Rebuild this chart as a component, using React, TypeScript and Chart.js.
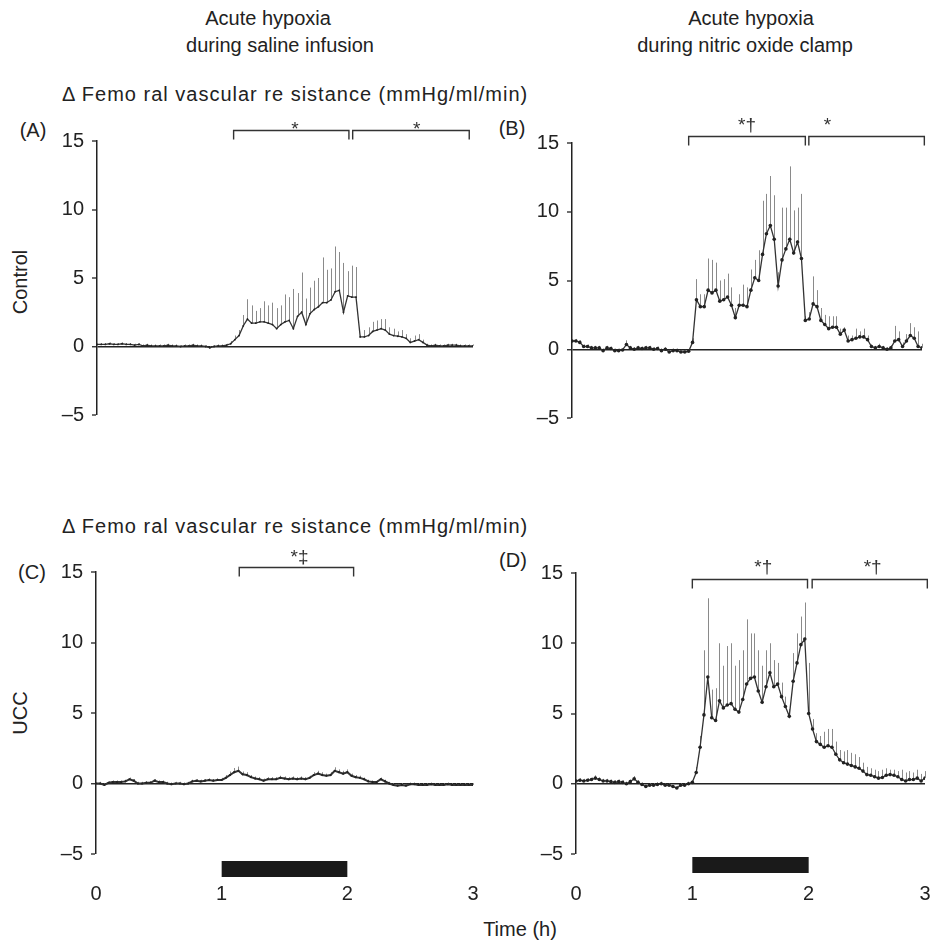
import React, { useEffect, useRef } from "react";
import { Chart, registerables } from "chart.js";

Chart.register(...registerables);

// ---------------- data ----------------
const X_TICKS = [0, 1, 2, 3];
const Y_TICKS = [-5, 0, 5, 10, 15];
const HYPOXIA_WINDOW = [1, 2]; // hours
const SAMPLE_STEP_MIN = 2;
const TIME_H = Array.from({ length: 91 }, (_, i) => (i * SAMPLE_STEP_MIN) / 60);

// (A) Control, saline infusion
const A_MEAN = [
  0.15, 0.15, 0.15, 0.2, 0.15, 0.15, 0.2, 0.15, 0.15, 0.1, 0.15,
  0.05, 0.1, 0.05, 0.05, 0.05, 0.05, 0.1, 0.05, 0.05, 0.0, 0.05, 0.05, 0.1, 0.05, 0.05, 0.0, -0.1, 0.0, 0.05, 0.05, 0.1,
  0.2, 0.5, 0.8, 1.5,
  2.0, 1.7, 1.7, 1.8, 1.8, 1.7, 1.6, 1.3, 1.6, 1.8, 1.9, 1.3, 2.2, 2.5, 1.6, 2.4, 2.7, 2.9, 3.2, 3.2, 3.4, 4.0, 4.1, 2.5, 3.7, 3.6, 3.6,
  0.7, 0.7, 0.8, 1.1, 1.2, 1.3, 1.2, 0.9, 0.8, 0.75, 0.7, 0.6, 0.3, 0.4, 0.5, 0.3, 0.1,
  0.05, 0.1, 0.05, 0.05, 0.1, 0.1, 0.1, 0.05, 0.05, 0.05, 0.05,
];
const A_SEM = [
  0.1, 0.1, 0.1, 0.1, 0.1, 0.1, 0.1, 0.1, 0.1, 0.1, 0.1,
  0.1, 0.1, 0.1, 0.1, 0.1, 0.1, 0.1, 0.1, 0.1, 0.1, 0.1, 0.1, 0.1, 0.1, 0.1, 0.1, 0.1, 0.1, 0.1, 0.1, 0.1,
  0.2, 0.3, 0.4, 0.8,
  1.45, 1.3, 0.9, 1.0, 1.5, 1.3, 1.6, 1.5, 1.4, 2.0, 1.7, 2.9, 1.7, 2.9, 1.9, 1.9, 2.1, 2.1, 3.3, 2.4, 2.3, 3.3, 2.8, 3.6, 1.8, 2.3, 2.2,
  0.1, 0.5, 0.6, 0.7, 0.7, 0.7, 0.8, 0.5, 0.5, 0.35, 0.5, 0.3, 0.3, 0.4, 0.4, 0.2, 0.1,
  0.1, 0.1, 0.1, 0.1, 0.1, 0.1, 0.1, 0.1, 0.1, 0.1, 0.1,
];

// (B) Control, nitric oxide clamp
const B_MEAN = [
  0.6, 0.6, 0.5, 0.2, 0.2, 0.1, 0.1, 0.1, -0.1, 0.1,
  0.05, -0.1, -0.1, -0.05, 0.35, 0.1, 0.0, 0.1, 0.05, 0.1,
  0.1, 0.0, 0.05, -0.1, 0.0, -0.2, -0.1, -0.1, -0.2, -0.2,
  -0.15, 0.5, 3.6, 3.1, 3.1, 4.3, 4.1, 4.3, 3.5, 3.6,
  3.8, 3.2, 2.3, 3.2, 3.2, 3.1, 4.3, 5.2, 5.0, 6.9,
  8.4, 9.0, 8.0, 4.6, 6.5, 7.3, 8.0, 7.0, 7.8, 6.6,
  2.1, 2.2, 3.3, 3.1, 2.1, 1.8, 1.5, 1.6, 1.6, 1.1,
  1.4, 0.6, 0.7, 0.8, 0.9, 0.9, 0.7, 0.2, 0.1, 0.2,
  0.1, 0.0, 0.1, 0.6, 0.7, 0.2, 0.6, 1.0, 0.8, 0.2,
  0.1,
];
const B_SEM = [
  0.15, 0.15, 0.15, 0.15, 0.15, 0.15, 0.15, 0.15, 0.15, 0.15,
  0.15, 0.15, 0.15, 0.15, 0.3, 0.15, 0.15, 0.15, 0.15, 0.15,
  0.15, 0.15, 0.15, 0.15, 0.15, 0.15, 0.15, 0.15, 0.15, 0.15,
  0.15, 0.3, 1.5, 0.9, 0.9, 2.3, 2.4, 2.0, 1.5, 1.5,
  1.7, 1.3, 0.7, 0.8, 1.5, 1.4, 1.5, 1.3, 2.2, 3.9,
  2.9, 3.6, 3.2, 1.0, 3.8, 3.0, 5.3, 3.1, 2.5, 4.7,
  0.3, 0.5, 2.0, 1.2, 0.9, 0.7, 0.9, 0.8, 0.8, 0.4,
  0.2, 0.4, 0.3, 0.7, 0.4, 0.6, 0.3, 0.15, 0.15, 0.2,
  0.15, 0.15, 0.2, 1.1, 0.6, 0.3, 0.5, 0.9, 0.8, 1.1,
  0.3,
];

// (C) UCC, saline infusion
const C_MEAN = [
  0.0, 0.0, -0.1, 0.05, 0.1, 0.1, 0.1, 0.15, 0.3, 0.2,
  0.0, 0.0, 0.05, 0.05, 0.2, 0.1, 0.1, 0.0, -0.05, 0.0,
  0.0, -0.05, 0.0, 0.15, 0.2, 0.15, 0.2, 0.25, 0.2, 0.25,
  0.25, 0.4, 0.6, 0.8, 0.9, 0.65, 0.6, 0.45, 0.35, 0.3,
  0.2, 0.3, 0.3, 0.3, 0.4, 0.35, 0.3, 0.35, 0.3, 0.35,
  0.3, 0.4, 0.6, 0.7, 0.6, 0.55, 0.6, 0.9, 0.8, 0.7,
  0.8, 0.55, 0.45, 0.4, 0.3, 0.15, 0.1, 0.1, 0.3, 0.15,
  0.0, -0.1, -0.15, -0.1, -0.15, -0.05, -0.05, -0.1, -0.1, -0.1,
  -0.05, -0.1, -0.1, -0.1, -0.05, -0.1, -0.1, -0.1, -0.1, -0.1,
  -0.1,
];
const C_SEM = [
  0.12, 0.12, 0.12, 0.12, 0.12, 0.12, 0.12, 0.12, 0.12, 0.12,
  0.12, 0.12, 0.12, 0.12, 0.12, 0.12, 0.12, 0.12, 0.12, 0.12,
  0.12, 0.12, 0.12, 0.12, 0.12, 0.12, 0.12, 0.12, 0.12, 0.12,
  0.15, 0.2, 0.25, 0.3, 0.3, 0.2, 0.2, 0.15, 0.15, 0.15,
  0.15, 0.15, 0.15, 0.15, 0.15, 0.15, 0.15, 0.15, 0.15, 0.15,
  0.15, 0.15, 0.2, 0.2, 0.2, 0.15, 0.2, 0.25, 0.2, 0.2,
  0.2, 0.15, 0.15, 0.15, 0.12, 0.12, 0.12, 0.12, 0.12, 0.12,
  0.12, 0.12, 0.12, 0.12, 0.12, 0.12, 0.12, 0.12, 0.12, 0.12,
  0.12, 0.12, 0.12, 0.12, 0.12, 0.12, 0.12, 0.12, 0.12, 0.12,
  0.12,
];

// (D) UCC, nitric oxide clamp
const D_MEAN = [
  0.2, 0.25, 0.2, 0.25, 0.3, 0.4, 0.3, 0.2, 0.2, 0.15,
  0.1, 0.15, 0.1, 0.0, 0.15, 0.35, 0.1, -0.05, -0.2, -0.1,
  -0.1, -0.05, 0.0, -0.1, -0.1, -0.2, -0.3, -0.1, -0.1, 0.0,
  0.1, 0.8, 2.6, 4.9, 7.6, 4.7, 4.5, 5.9, 5.4, 5.6,
  5.7, 5.3, 5.1, 6.0, 7.1, 7.5, 7.6, 6.6, 5.8, 6.9,
  7.9, 6.9, 7.1, 6.2, 5.5, 4.8, 7.3, 8.6, 9.9, 10.3,
  5.0, 3.9, 3.0, 2.8, 2.6, 2.7, 2.6, 2.1, 1.7, 1.5,
  1.4, 1.3, 1.2, 1.1, 0.9, 0.65, 0.6, 0.5, 0.4, 0.45,
  0.6, 0.65, 0.6, 0.5, 0.3, 0.2, 0.3, 0.3, 0.4, 0.2,
  0.4,
];
const D_SEM = [
  0.15, 0.15, 0.15, 0.15, 0.15, 0.2, 0.15, 0.15, 0.15, 0.15,
  0.15, 0.15, 0.15, 0.15, 0.15, 0.2, 0.15, 0.15, 0.15, 0.15,
  0.15, 0.15, 0.15, 0.15, 0.15, 0.15, 0.15, 0.15, 0.15, 0.15,
  0.1, 0.4, 0.8, 4.6, 5.6, 2.0, 2.3, 4.1, 3.0, 4.2,
  4.3, 3.1, 3.7, 3.5, 4.6, 3.2, 3.1, 2.9, 2.6, 2.6,
  2.1, 1.9, 1.5, 1.0, 0.7, 0.5, 2.0, 2.1, 2.0, 2.6,
  3.6, 0.7, 0.6, 0.6, 1.1, 1.2, 1.3, 0.9, 0.7, 0.8,
  1.0, 0.9, 0.9, 0.8, 0.6, 0.55, 0.5, 0.5, 0.5, 0.55,
  0.5, 0.35, 0.4, 0.4, 0.7, 0.6, 0.6, 0.5, 0.6, 0.5,
  0.5,
];

// significance brackets (hours)
const A_BRACKETS = [
  { from: 1.09, to: 2.01, labelAt: 1.58, label: "*" },
  { from: 2.04, to: 2.97, labelAt: 2.55, label: "*" },
];
const B_BRACKETS = [
  { from: 1.0, to: 2.0, labelAt: 1.5, label: "*\u2020" },
  { from: 2.03, to: 3.02, labelAt: 2.19, label: "*" },
];
const C_BRACKETS = [{ from: 1.14, to: 2.05, labelAt: 1.62, label: "*\u2021" }];
const D_BRACKETS = [
  { from: 1.0, to: 1.99, labelAt: 1.61, label: "*\u2020" },
  { from: 2.03, to: 3.02, labelAt: 2.55, label: "*\u2020" },
];

// ---------------- styles / layout ----------------
const FONT = '"Liberation Sans", Arial, sans-serif';
const INK = "#222";

type PanelStyle = {
  left: number; top: number; width: number; height: number;
  padTop: number; padBottom: number; padRight: number;
  showX: boolean; pointRadius: number; lineWidth: number;
  bracketDy: number; labelDy: number; barDy: number;
};

const STYLE_A: PanelStyle = { left: 52, top: 111, width: 433, height: 324, padTop: 30, padBottom: 15, padRight: 12, showX: false, pointRadius: 0.9, lineWidth: 1.3, bracketDy: -11, labelDy: 4, barDy: 0 };
const STYLE_B: PanelStyle = { left: 527, top: 113, width: 403, height: 325, padTop: 30, padBottom: 15, padRight: 8, showX: false, pointRadius: 1.8, lineWidth: 1.3, bracketDy: -7, labelDy: -6, barDy: 0 };
const STYLE_C: PanelStyle = { left: 51, top: 542, width: 434, height: 377, padTop: 30, padBottom: 5, padRight: 12, showX: true, pointRadius: 1.1, lineWidth: 2, bracketDy: -5, labelDy: -5, barDy: 7 };
const STYLE_D: PanelStyle = { left: 531, top: 543, width: 400, height: 376, padTop: 30, padBottom: 5, padRight: 6, showX: true, pointRadius: 1.8, lineWidth: 1.3, bracketDy: 6, labelDy: -7, barDy: 3 };

type Bracket = { from: number; to: number; labelAt: number; label: string };

function Panel({ mean, sem, brackets, s }: { mean: number[]; sem: number[]; brackets: Bracket[]; s: PanelStyle }) {
  const ref = useRef<HTMLCanvasElement>(null);
  useEffect(() => {
    const annot = {
      id: "annot",
      beforeDatasetsDraw(chart: any) {
        const { ctx } = chart;
        const xs = chart.scales.x, ys = chart.scales.y;
        ctx.save();
        ctx.strokeStyle = "#8a8a8a";
        ctx.lineWidth = 1;
        ctx.beginPath();
        TIME_H.forEach((t, i) => {
          const x = Math.round(xs.getPixelForValue(t)) + 0.5;
          ctx.moveTo(x, ys.getPixelForValue(mean[i]));
          ctx.lineTo(x, ys.getPixelForValue(mean[i] + sem[i]));
        });
        ctx.stroke();
        ctx.restore();
      },
      afterDraw(chart: any) {
        const { ctx, chartArea } = chart;
        const xs = chart.scales.x;
        ctx.save();
        ctx.strokeStyle = "#333";
        ctx.lineWidth = 1.4;
        ctx.fillStyle = "#333";
        ctx.font = `19px ${FONT}`;
        ctx.textAlign = "center";
        ctx.textBaseline = "alphabetic";
        const y = Math.round(chartArea.top + s.bracketDy) + 0.5;
        brackets.forEach((b) => {
          const x1 = xs.getPixelForValue(b.from);
          const x2 = xs.getPixelForValue(b.to);
          ctx.beginPath();
          ctx.moveTo(x1, y + 9);
          ctx.lineTo(x1, y);
          ctx.lineTo(x2, y);
          ctx.lineTo(x2, y + 9);
          ctx.stroke();
          ctx.fillText(b.label, xs.getPixelForValue(b.labelAt), y + s.labelDy);
        });
        if (s.showX) {
          const bx1 = xs.getPixelForValue(HYPOXIA_WINDOW[0]);
          const bx2 = xs.getPixelForValue(HYPOXIA_WINDOW[1]);
          ctx.fillStyle = "#1a1a1a";
          ctx.fillRect(bx1, chartArea.bottom + s.barDy, bx2 - bx1, 16);
        }
        ctx.restore();
      },
    };
    const chart = new Chart(ref.current as HTMLCanvasElement, {
      type: "line",
      data: {
        datasets: [
          {
            data: TIME_H.map((t, i) => ({ x: t, y: mean[i] })),
            borderColor: "#333",
            borderWidth: s.lineWidth,
            pointRadius: s.pointRadius,
            pointBackgroundColor: "#222",
            pointBorderWidth: 0,
            tension: 0,
          },
        ],
      },
      options: {
        responsive: false,
        animation: false,
        events: [],
        layout: { padding: { top: s.padTop, bottom: s.padBottom, left: 0, right: s.padRight } },
        plugins: { legend: { display: false }, tooltip: { enabled: false } },
        scales: {
          x: {
            type: "linear",
            min: X_TICKS[0],
            max: X_TICKS[X_TICKS.length - 1],
            display: s.showX,
            afterBuildTicks: (sc: any) => { sc.ticks = X_TICKS.map((v) => ({ value: v })); },
            afterFit: (sc: any) => {
              if (s.showX) sc.height = 60;
              sc.paddingLeft = 0;
              sc.paddingRight = 0;
            },
            grid: { display: false, drawTicks: false },
            border: { display: false },
            ticks: { font: { size: 20, family: FONT }, color: INK, padding: 28, maxRotation: 0 },
          },
          y: {
            type: "linear",
            min: Y_TICKS[0],
            max: Y_TICKS[Y_TICKS.length - 1],
            afterBuildTicks: (sc: any) => { sc.ticks = Y_TICKS.map((v) => ({ value: v })); },
            afterFit: (sc: any) => { sc.width = 45; },
            border: { display: true, color: INK, width: 1.5 },
            grid: {
              display: true,
              drawOnChartArea: true,
              drawTicks: true,
              tickLength: 5,
              tickColor: INK,
              tickWidth: 1.3,
              color: (c: any) => (c.tick && c.tick.value === 0 ? INK : "rgba(0,0,0,0)"),
              lineWidth: (c: any) => (c.tick && c.tick.value === 0 ? 1.5 : 0),
            },
            ticks: {
              font: { size: 20, family: FONT },
              color: INK,
              padding: 8,
              callback: (v: any) => (v < 0 ? "\u2013" + Math.abs(v) : String(v)),
            },
          },
        },
      },
      plugins: [annot],
    } as any);
    return () => chart.destroy();
  }, []);
  return (
    <canvas
      ref={ref}
      width={s.width}
      height={s.height}
      style={{ position: "absolute", left: s.left, top: s.top, width: s.width, height: s.height }}
    />
  );
}

function Txt({ x, y, children, rotate, spacing }: { x: number; y: number; children: any; rotate?: boolean; spacing?: number }) {
  return (
    <div
      style={{
        position: "absolute",
        left: x,
        top: y,
        transform: `translate(-50%, -50%)${rotate ? " rotate(-90deg)" : ""}`,
        whiteSpace: "nowrap",
        fontFamily: FONT,
        fontSize: 20,
        lineHeight: "24px",
        color: INK,
        letterSpacing: spacing ? spacing : 0,
      }}
    >
      {children}
    </div>
  );
}

function LeftTxt({ x, y, children, spacing }: { x: number; y: number; children: any; spacing?: number }) {
  return (
    <div
      style={{
        position: "absolute",
        left: x,
        top: y - 12,
        whiteSpace: "nowrap",
        fontFamily: FONT,
        fontSize: 20,
        lineHeight: "24px",
        color: INK,
        letterSpacing: spacing ? spacing : 0,
      }}
    >
      {children}
    </div>
  );
}

export default function App() {
  const yTitle = "\u0394 Femo ral vascular re sistance (mmHg/ml/min)";
  return (
    <div style={{ position: "absolute", left: 0, top: 0, width: 932, height: 941, overflow: "hidden", background: "#fff" }}>
      <Txt x={268} y={18}>Acute hypoxia</Txt>
      <Txt x={280} y={45}>during saline infusion</Txt>
      <Txt x={751} y={18}>Acute hypoxia</Txt>
      <Txt x={745} y={45}>during nitric oxide clamp</Txt>
      <LeftTxt x={62} y={94} spacing={1}>{yTitle}</LeftTxt>
      <LeftTxt x={62} y={526} spacing={1}>{yTitle}</LeftTxt>
      <Txt x={33} y={130}>(A)</Txt>
      <Txt x={512} y={128}>(B)</Txt>
      <Txt x={32} y={572}>(C)</Txt>
      <Txt x={513} y={560}>(D)</Txt>
      <Txt x={20} y={282} rotate>Control</Txt>
      <Txt x={20} y={713} rotate>UCC</Txt>
      <Txt x={520} y={929}>Time (h)</Txt>
      <Panel mean={A_MEAN} sem={A_SEM} brackets={A_BRACKETS} s={STYLE_A} />
      <Panel mean={B_MEAN} sem={B_SEM} brackets={B_BRACKETS} s={STYLE_B} />
      <Panel mean={C_MEAN} sem={C_SEM} brackets={C_BRACKETS} s={STYLE_C} />
      <Panel mean={D_MEAN} sem={D_SEM} brackets={D_BRACKETS} s={STYLE_D} />
    </div>
  );
}
